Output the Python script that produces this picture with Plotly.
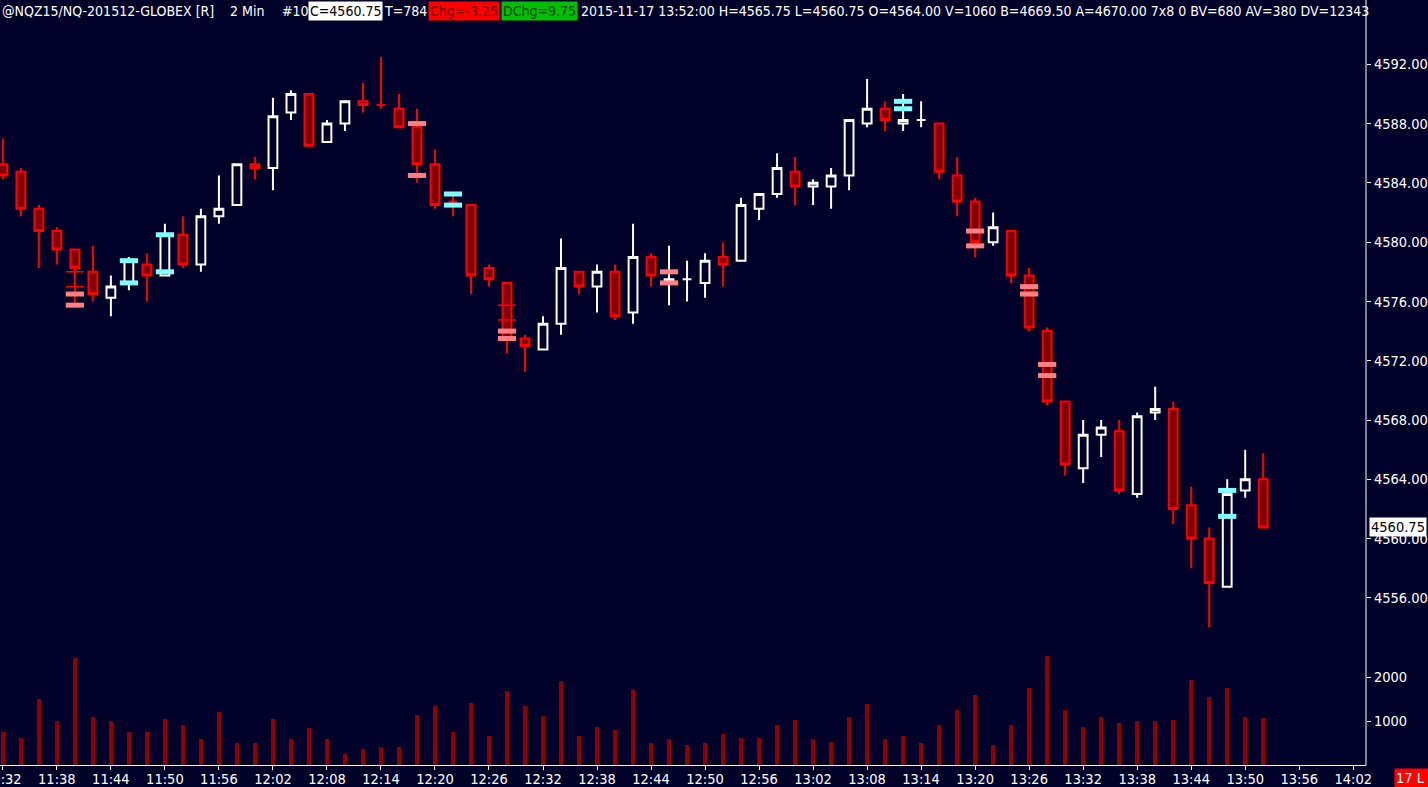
import plotly.graph_objects as go

DAY = "2015-11-17 "
times = ["11:32", "11:34", "11:36", "11:38", "11:40", "11:42", "11:44", "11:46", "11:48", "11:50",
         "11:52", "11:54", "11:56", "11:58", "12:00", "12:02", "12:04", "12:06", "12:08", "12:10",
         "12:12", "12:14", "12:16", "12:18", "12:20", "12:22", "12:24", "12:26", "12:28", "12:30",
         "12:32", "12:34", "12:36", "12:38", "12:40", "12:42", "12:44", "12:46", "12:48", "12:50",
         "12:52", "12:54", "12:56", "12:58", "13:00", "13:02", "13:04", "13:06", "13:08", "13:10",
         "13:12", "13:14", "13:16", "13:18", "13:20", "13:22", "13:24", "13:26", "13:28", "13:30",
         "13:32", "13:34", "13:36", "13:38", "13:40", "13:42", "13:44", "13:46", "13:48", "13:50",
         "13:52"]
opens = [4585.25, 4584.75, 4582.25, 4580.75, 4579.5, 4578.0, 4576.25, 4577.25, 4578.5, 4577.75,
         4580.5, 4578.5, 4581.75, 4582.5, 4585.25, 4585.0, 4588.75, 4590.0, 4586.75, 4588.0,
         4589.5, 4589.25, 4589.0, 4587.75, 4585.25, 4582.75, 4582.5, 4578.25, 4577.25, 4573.5,
         4572.75, 4574.5, 4578.0, 4577.0, 4578.0, 4575.25, 4579.0, 4577.25, 4577.5, 4577.25,
         4579.0, 4578.75, 4582.25, 4583.25, 4584.75, 4583.75, 4583.75, 4584.5, 4588.0, 4589.0,
         4588.0, 4588.25, 4588.0, 4584.5, 4582.75, 4580.0, 4580.75, 4577.75, 4574.0, 4569.25,
         4564.75, 4567.0, 4567.25, 4563.0, 4568.5, 4568.75, 4562.25, 4560.0, 4556.75, 4563.25,
         4564.0]
highs = [4587.0, 4585.0, 4582.5, 4581.0, 4579.5, 4579.75, 4577.75, 4579.0, 4579.25, 4581.25,
         4581.75, 4582.25, 4584.5, 4585.25, 4585.75, 4589.75, 4590.25, 4590.0, 4588.25, 4589.5,
         4590.75, 4592.5, 4590.0, 4589.0, 4586.25, 4583.25, 4582.5, 4578.5, 4577.25, 4573.75,
         4575.0, 4580.25, 4578.0, 4578.5, 4578.5, 4581.25, 4579.25, 4579.75, 4578.75, 4579.25,
         4580.0, 4583.0, 4583.25, 4586.0, 4585.75, 4584.25, 4585.0, 4588.25, 4591.0, 4589.5,
         4590.0, 4589.5, 4588.0, 4585.75, 4583.0, 4582.0, 4580.75, 4578.25, 4574.25, 4569.25,
         4568.0, 4568.0, 4568.0, 4568.5, 4570.25, 4569.25, 4563.5, 4560.75, 4564.0, 4566.0,
         4565.75]
lows = [4584.25, 4581.75, 4578.25, 4578.5, 4575.75, 4576.0, 4575.0, 4576.75, 4576.0, 4577.75,
        4578.25, 4578.0, 4581.25, 4582.5, 4584.25, 4583.5, 4588.25, 4586.5, 4586.75, 4587.5,
        4588.75, 4589.0, 4587.75, 4584.0, 4582.25, 4581.75, 4576.5, 4577.0, 4572.5, 4571.25,
        4572.75, 4573.75, 4576.5, 4575.25, 4574.75, 4574.5, 4577.0, 4575.75, 4576.0, 4576.25,
        4577.0, 4578.75, 4581.5, 4583.0, 4582.5, 4582.5, 4582.25, 4583.5, 4587.75, 4587.5,
        4587.5, 4587.75, 4584.25, 4581.75, 4579.0, 4579.75, 4577.25, 4574.0, 4569.0, 4564.25,
        4563.75, 4565.5, 4563.0, 4562.75, 4568.0, 4561.0, 4558.0, 4554.0, 4556.75, 4562.75,
        4560.75]
closes = [4584.5, 4582.25, 4580.75, 4579.5, 4578.25, 4576.5, 4577.0, 4578.75, 4577.75, 4580.5,
          4578.5, 4581.75, 4582.25, 4585.25, 4585.0, 4588.5, 4590.0, 4586.5, 4588.0, 4589.5,
          4589.25, 4589.25, 4587.75, 4585.25, 4582.5, 4582.75, 4577.75, 4577.5, 4573.5, 4573.0,
          4574.5, 4578.25, 4577.0, 4578.0, 4575.0, 4579.0, 4577.75, 4577.5, 4577.5, 4578.75,
          4578.5, 4582.5, 4583.25, 4585.0, 4583.75, 4584.0, 4584.5, 4588.25, 4589.0, 4588.25,
          4588.25, 4588.25, 4584.75, 4582.75, 4580.0, 4581.0, 4577.75, 4574.25, 4569.25, 4565.0,
          4567.0, 4567.5, 4563.25, 4568.25, 4568.75, 4562.0, 4560.0, 4557.0, 4563.0, 4564.0,
          4560.75]
# doji direction as drawn (1 = white/up, 0 = red/down)
doji_up = {"12:14": 0, "12:22": 0, "12:48": 1, "13:14": 1}
volumes = [761, 625, 1489, 989, 2443, 1102, 1011, 761, 739, 1057,
           898, 580, 1216, 511, 511, 1057, 580, 830, 602, 261,
           375, 398, 420, 1148, 1330, 739, 1420, 670, 1693, 1352,
           1125, 1920, 670, 875, 807, 1716, 489, 602, 466, 511,
           716, 625, 625, 920, 1034, 602, 534, 1102, 1398, 580,
           670, 511, 898, 1239, 1580, 466, 898, 1739, 2489, 1239,
           875, 1080, 966, 1011, 989, 1034, 1943, 1557, 1739, 1102,
           1060]
pink_times = ["11:40", "11:40", "12:18", "12:18", "12:28", "12:28", "12:46", "12:46",
              "13:20", "13:20", "13:26", "13:26", "13:28", "13:28"]
pink_prices = [4576.5, 4575.75, 4588.0, 4584.5, 4574.0, 4573.5, 4578.0, 4577.25,
               4580.75, 4579.75, 4577.0, 4576.5, 4571.75, 4571.0]
cyan_times = ["11:46", "11:46", "11:50", "11:50", "12:22", "12:22", "13:12", "13:12", "13:48", "13:48"]
cyan_prices = [4578.75, 4577.25, 4580.5, 4578.0, 4583.25, 4582.5, 4589.5, 4589.0, 4563.25, 4561.5]
redline_times = ["11:40", "11:40", "12:28", "12:28"]
redline_prices = [4578.0, 4577.0, 4575.75, 4574.75]
price_ticks = [4556, 4560, 4564, 4568, 4572, 4576, 4580, 4584, 4588, 4592]
vol_ticks = [1000, 2000]
last_price = 4560.75

BG = "#000028"
FONT = "DejaVu Sans Condensed, sans-serif"
FS = 14.5
HFS = 14

def ts(t):
    return DAY + t + ":00"

up_idx, dn_idx = [], []
for i, t in enumerate(times):
    if closes[i] > opens[i]:
        up_idx.append(i)
    elif closes[i] < opens[i]:
        dn_idx.append(i)
    else:
        (up_idx if doji_up.get(t, 1) else dn_idx).append(i)

fig = go.Figure()

def candle(idx, line_col, fill_col, name):
    fig.add_trace(go.Candlestick(
        x=[ts(times[i]) for i in idx],
        open=[opens[i] for i in idx], high=[highs[i] for i in idx],
        low=[lows[i] for i in idx], close=[closes[i] for i in idx],
        increasing=dict(line=dict(color=line_col, width=2), fillcolor=fill_col),
        decreasing=dict(line=dict(color=line_col, width=2), fillcolor=fill_col),
        whiskerwidth=0, name=name, showlegend=False, hoverinfo="skip",
        xaxis="x", yaxis="y"))

candle(up_idx, "#FFFFFF", BG, "up")
candle(dn_idx, "#FF0000", "#800000", "down")

def ticks_trace(tl, pl, color, width):
    fig.add_trace(go.Scatter(
        x=[ts(t) for t in tl], y=pl, mode="markers",
        marker=dict(symbol="line-ew", size=13, line=dict(color=color, width=width)),
        showlegend=False, hoverinfo="skip", xaxis="x", yaxis="y"))

ticks_trace(pink_times, pink_prices, "#FF8080", 5)
ticks_trace(cyan_times, cyan_prices, "#80FFFF", 5)
ticks_trace(redline_times, redline_prices, "#FF0000", 1.5)

fig.add_trace(go.Bar(
    x=[ts(t) for t in times], y=volumes, width=26000,
    marker=dict(color="#900000", line=dict(width=0)),
    showlegend=False, hoverinfo="skip", xaxis="x", yaxis="y2"))

H_PLOT = 743.0
W_PLOT = 1366.0

fig.update_layout(
    width=1428, height=787,
    margin=dict(l=0, r=62, t=22, b=22, autoexpand=False),
    paper_bgcolor=BG, plot_bgcolor=BG,
    font=dict(family=FONT, size=FS, color="#FFFFFF"),
    bargap=0,
    boxgap=0.3, boxgroupgap=0.3,
    xaxis=dict(
        type="date", range=[DAY + "11:31:41", DAY + "14:03:25"],
        anchor="y2", rangeslider=dict(visible=False), automargin=False,
        tick0=DAY + "11:32:00", dtick=360000, tickformat="%H:%M",
        ticks="outside", ticklen=4, tickcolor="#FFFFFF", tickwidth=1,
        ticklabelstandoff=-3, ticklabeloverflow="allow",
        showline=True, linecolor="#FFFFFF", linewidth=1,
        showgrid=False, zeroline=False,
        tickfont=dict(family=FONT, size=FS, color="#FFFFFF")),
    yaxis=dict(
        domain=[120 / H_PLOT, 1.0], range=[4552.82, 4594.854], side="right", automargin=False,
        tickvals=price_ticks, ticktext=["%.2f" % v for v in price_ticks],
        ticks="outside", ticklen=4, tickcolor="#FFFFFF",
        showline=False, showgrid=False, zeroline=False,
        tickfont=dict(family=FONT, size=FS, color="#FFFFFF")),
    yaxis2=dict(
        domain=[0, 115 / H_PLOT], range=[0, 2614], side="right", automargin=False,
        tickvals=vol_ticks, ticktext=[str(v) for v in vol_ticks],
        ticks="outside", ticklen=4, tickcolor="#FFFFFF",
        showline=False, showgrid=False, zeroline=False,
        tickfont=dict(family=FONT, size=FS, color="#FFFFFF")),
)

# right-hand axis line spanning price and volume panes (and header row)
fig.add_shape(type="line", xref="paper", yref="paper", x0=1, x1=1, y0=0, y1=1 + 22 / H_PLOT,
              line=dict(color="#FFFFFF", width=1))

# last price label
fig.add_annotation(xref="paper", yref="y", x=1, y=last_price, xanchor="left", yanchor="middle",
                   xshift=3, text="%.2f" % last_price, showarrow=False,
                   bgcolor="#FFFFFF", font=dict(family=FONT, size=FS, color="#000000"), borderpad=1)

# header row
hy = 1 + 11 / H_PLOT
header = [
    (0, "@NQZ15/NQ-201512-GLOBEX [R]", None, "#FFFFFF"),
    (228, "2 Min", None, "#FFFFFF"),
    (280, "#10", None, "#FFFFFF"),
    (307.6, "C=4560.75", "#FFFFFF", "#000000"),
    (382, "T=784", None, "#FFFFFF"),
    (428, "Chg=-3.25", "#FF0000", "#700000"),
    (500.5, "DChg=9.75", "#00C000", "#004000"),
    (579.4, "2015-11-17 13:52:00 H=4565.75 L=4560.75 O=4564.00 V=1060 B=4669.50 A=4670.00 7x8 0 BV=680 AV=380 DV=12343", None, "#FFFFFF"),
]
for px, txt, bg, col in header:
    fig.add_annotation(xref="paper", yref="paper", x=px / W_PLOT, y=hy, xanchor="left", yanchor="middle",
                       text=txt, showarrow=False, bgcolor=bg if bg else "rgba(0,0,0,0)",
                       font=dict(family=FONT, size=HFS, color=col), borderpad=1)

# bottom-right badge
fig.add_annotation(xref="paper", yref="paper", x=1394 / W_PLOT, y=-13 / H_PLOT, xanchor="left", yanchor="middle",
                   text="17 L&nbsp;&nbsp;", showarrow=False, bgcolor="#FF0000",
                   font=dict(family=FONT, size=FS, color="#FFFFFF"), borderpad=1)

fig.write_html("out.html", config={"displayModeBar": False},
               post_script="document.body.style.margin='0';document.body.style.padding='0';"
                           "document.body.style.overflow='hidden';"
                           "document.body.style.background='" + BG + "';")
